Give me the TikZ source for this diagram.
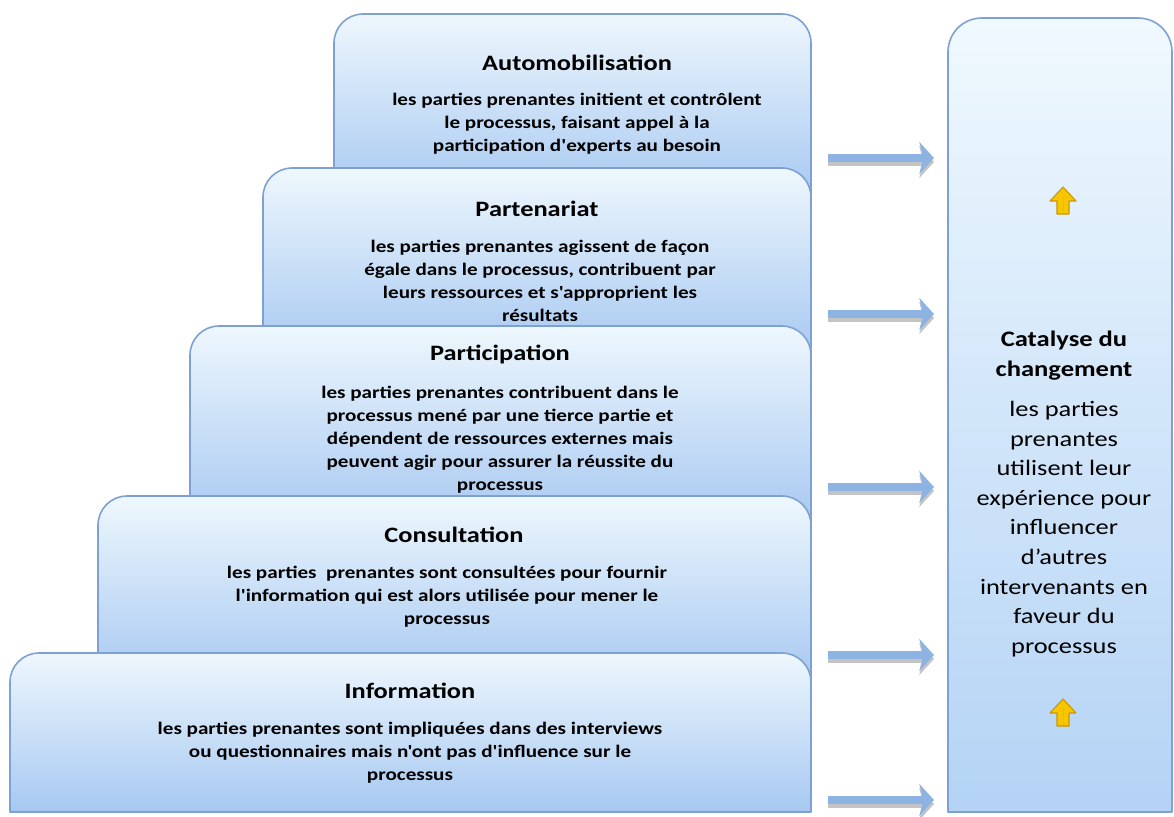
\documentclass[tikz,border=0pt]{standalone}
\usepackage{fontspec}
\setmainfont{Carlito}[Ligatures=TeXOff, FakeStretch=1.2]
\usetikzlibrary{arrows.meta}
\definecolor{boxedge}{HTML}{7FA0D2}
\definecolor{boxtop}{HTML}{EEF7FD}
\definecolor{boxbot}{HTML}{A6C8F1}
\definecolor{sidetop}{HTML}{F0F9FE}
\definecolor{sidebot}{HTML}{B4D3F5}
\definecolor{arrowblue}{HTML}{8DB3E2}
\definecolor{arrowshade}{HTML}{C4C4C4}
\definecolor{gold}{HTML}{F7C600}
\definecolor{golddark}{HTML}{C99700}
\tikzset{
  x=0.75pt, y=-0.75pt,
  stepbox/.style={draw=boxedge, line width=1.2pt, line join=round, top color=boxtop, bottom color=boxbot},
  sidebox/.style={draw=boxedge, line width=1.2pt, line join=round, top color=sidetop, bottom color=sidebot},
  steptitle/.style={font=\fontsize{16.5}{19}\selectfont\bfseries, inner sep=0pt},
  stepbody/.style={font=\fontsize{13.2}{17.3}\selectfont\bfseries, align=center, inner sep=0pt},
  sidetitle/.style={font=\fontsize{16.6}{22.5}\selectfont\bfseries, align=center, inner sep=0pt},
  sidebody/.style={font=\fontsize{16.5}{22.2}\selectfont, align=center, inner sep=0pt},
  flow/.style={line width=6.5pt, arrowblue, -{Stealth[length=11pt, width=24pt, inset=3pt]}},
  flowshadow/.style={line width=6.5pt, arrowshade, -{Stealth[length=11pt, width=24pt, inset=3pt]}},
  uparrow/.style={fill=gold, draw=golddark, line width=0.8pt, line join=round}
}
% one step of the ladder: left x, top y, bottom y (rounded top corners only)
\newcommand{\ladderstep}[3]{%
  \path[stepbox] (#1,#3) -- (#1,#2+29)
    .. controls (#1,#2+13) and (#1+13,#2) .. (#1+29,#2) -- (782,#2)
    .. controls (798,#2) and (811,#2+13) .. (811,#2+29) -- (811,#3) -- cycle;}
% block arrow pointing up, centred at the given point
\newcommand{\goldup}[2]{%
  \path[uparrow] (#1-6,#2+14) -- (#1-6,#2+1) -- (#1-13,#2+1) -- (#1,#2-13)
    -- (#1+13,#2+1) -- (#1+6,#2+1) -- (#1+6,#2+14) -- cycle;
  \draw[golddark!70, line width=0.6pt] (#1,#2-4) -- (#1,#2+12);}
\begin{document}
\begin{tikzpicture}
\useasboundingbox (0,0) rectangle (1174,817);
\fill[white] (0,0) rectangle (1174,817);

% ladder of steps, from the top one down
\ladderstep{334}{14}{200}
\ladderstep{263}{168}{358}
\ladderstep{190}{326}{528}
\ladderstep{98}{496}{685}
\ladderstep{10}{653}{812}

% side box
\path[sidebox] (948,812) -- (948,52)
  .. controls (948,33) and (963,18) .. (982,18) -- (1138,18)
  .. controls (1157,18) and (1172,33) .. (1172,52) -- (1172,812) -- cycle;

% texts of the steps
\node[steptitle] (t1) at (577,63) {Automobilisation};
\node[stepbody] (b1) at (577,124) {les parties prenantes initient et contrôlent\\le processus, faisant appel à la\\participation d'experts au besoin};
\node[steptitle] (t2) at (537,209) {Partenariat};
\node[stepbody] (b2) at (540,281) {les parties prenantes agissent de façon\\égale dans le processus, contribuent par\\leurs ressources et s'approprient les\\résultats};
\node[steptitle] (t3) at (500,354) {Participation};
\node[stepbody] (b3) at (500,440) {les parties prenantes contribuent dans le\\processus mené par une tierce partie et\\dépendent de ressources externes mais\\peuvent agir pour assurer la réussite du\\processus};
\node[steptitle] (t4) at (454,535) {Consultation};
\node[stepbody] (b4) at (447,597) {les parties~~prenantes sont consultées pour fournir\\l'information qui est alors utilisée pour mener le\\processus};
\node[steptitle] (t5) at (410,691) {Information};
\node[stepbody] (b5) at (410,753) {les parties prenantes sont impliquées dans des interviews\\ou questionnaires mais n'ont pas d'influence sur le\\processus};

% text of the side box
\node[sidetitle] (ct) at (1064,356) {Catalyse du\\changement};
\node[sidebody] (cb) at (1064,529) {les parties\\prenantes\\utilisent leur\\expérience pour\\influencer\\d’autres\\intervenants en\\faveur du\\processus};

% flow arrows from the steps to the side box
\foreach \y [count=\i] in {158,314,487,655,800} {
  \coordinate (s\i) at (828,\y);
  \coordinate (e\i) at (934,\y);
  \coordinate (ss\i) at (828,\y+4);
  \coordinate (es\i) at (934,\y+4);
  \draw[flowshadow] (ss\i) -- (es\i);
  \draw[flow] (s\i) -- (e\i);
}

% gold arrows in the side box
\goldup{1063}{200}
\goldup{1063}{712}
\end{tikzpicture}
\end{document}
